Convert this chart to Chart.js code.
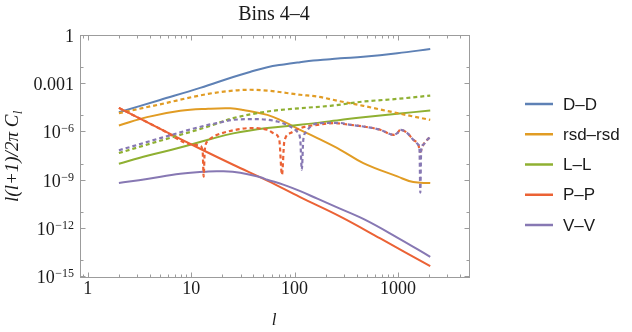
<!DOCTYPE html>
<html><head><meta charset="utf-8">
<script src="https://cdn.jsdelivr.net/npm/chart.js@4.4.1/dist/chart.umd.min.js"></script>
<style>html,body{margin:0;padding:0;background:#fff}canvas{display:block}</style>
</head><body>
<canvas id="c" width="632" height="332"></canvas>
<script>
// ---- text ----
const chartTitle = 'Bins 4–4';
const seriesNames = ['D–D', 'rsd–rsd', 'L–L', 'P–P', 'V–V'];
const seriesColors = ['#5E81B5', '#E19C24', '#8FB032', '#EB6235', '#8778B3'];
const xTickValues = [1, 10, 100, 1000];
const xTickLabels = ['1', '10', '100', '1000'];
const yTickValues = [1, 1e-3, 1e-6, 1e-9, 1e-12, 1e-15];
const yTickBase = ['1', '0.001', '10', '10', '10', '10'];
const yTickExp = ['', '', '−6', '−9', '−12', '−15'];
const yMinorTickValues = [1e-2, 1e-5, 1e-8, 1e-11, 1e-14];

// ---- data (l, value) ----
const ddL = [2, 5, 12.2, 25.5, 37, 54.5, 78.6, 113, 152, 221, 277, 462, 985, 2050];
const ddV = [1.8e-5, 1.05e-4, 5.9e-4, 2.8e-3, 5.8e-3, 1.15e-2, 1.7e-2, 2.34e-2, 2.95e-2, 3.57e-2, 4.1e-2, 5.1e-2, 8.4e-2, 0.155];

const rrL = [2, 3.74, 7.85, 14.6, 23.9, 31.9, 54.5, 77.8, 113, 166, 277, 462, 985, 1405, 2050];
const rrV = [2.7e-6, 8.9e-6, 2.19e-5, 2.95e-5, 3.16e-5, 2.5e-5, 1.23e-5, 4.8e-6, 1.45e-6, 4.4e-7, 8.3e-8, 1.23e-8, 1.82e-9, 8.1e-10, 7.1e-10];

const rrDashL = [2, 5, 14.6, 25.5, 37.3, 54.5, 113, 166, 265, 462, 985, 2050];
const rrDashV = [1.58e-5, 5.6e-5, 2.5e-4, 4.0e-4, 4.5e-4, 4.0e-4, 2.2e-4, 1.7e-4, 9.1e-5, 4.5e-5, 1.58e-5, 6.0e-6];

const llL = [2, 3.76, 7.34, 14.6, 25.5, 54.5, 113, 277, 462, 985, 2050];
const llV = [1.12e-8, 3.55e-8, 1.02e-7, 3.47e-7, 8.7e-7, 1.86e-6, 2.95e-6, 6.0e-6, 8.9e-6, 1.45e-5, 2.3e-5];

const llDashL = [2, 5, 14.6, 25.5, 54.5, 113, 221, 462, 985, 2050];
const llDashV = [5.2e-8, 3.0e-7, 2.32e-6, 7.7e-6, 1.99e-5, 3.2e-5, 4.5e-5, 8.3e-5, 1.22e-4, 1.96e-4];

const ppL = [2, 5.02, 12.2, 25.5, 54.5, 113, 277, 674, 2050];
const ppV = [3.37e-5, 1.67e-6, 9.6e-8, 9.7e-9, 9.9e-10, 9.3e-11, 5.7e-12, 2.5e-13, 4.7e-15];

const ppDashL = [2, 5.02, 10, 12.2, 12.92, 13.2, 13.54, 14.54, 17, 20, 25.5, 37.3, 54.5, 63.6, 71.1, 75.5, 79.5, 90.9, 113.5, 166, 238, 346, 462, 674, 901, 985, 1052, 1230, 1406, 1572, 1644, 1757, 1920, 2050];
const ppDashV = [3.37e-5, 1.67e-6, 1.82e-7, 1.47e-7, 6.2e-8, 1.75e-9, 8.3e-8, 3.0e-7, 6.15e-7, 9.06e-7, 1.35e-6, 1.85e-6, 1.45e-6, 8.2e-7, 3.47e-7, 2.32e-9, 2.61e-7, 9.06e-7, 1.85e-6, 2.96e-6, 3.78e-6, 2.96e-6, 2.32e-6, 1.45e-6, 7.1e-7, 9.06e-7, 1.45e-6, 9.06e-7, 3.47e-7, 1.7e-7, 6.2e-8, 1.7e-7, 3.47e-7, 5.1e-7];

const vvL = [2, 3.74, 7.85, 14.6, 19.1, 29.8, 46.6, 54.5, 77.7, 113.5, 166, 248, 462, 985, 2050];
const vvV = [7.1e-10, 1.26e-9, 2.69e-9, 3.72e-9, 3.84e-9, 3.1e-9, 1.63e-9, 1.14e-9, 5.6e-10, 2.2e-10, 7.5e-11, 2.39e-11, 4.1e-12, 2.84e-13, 1.8e-14];

const vvDashL = [2, 5.02, 14.6, 17.8, 25.5, 43.6, 68.1, 90.9, 106.2, 113.5, 117.4, 121.4, 129.8, 142, 177, 265, 346, 462, 674, 901, 985, 1052, 1230, 1406, 1572, 1615, 1644, 1675, 1757, 1920, 2050];
const vvDashV = [7.7e-8, 4.37e-7, 2.96e-6, 3.78e-6, 6.07e-6, 6.7e-6, 4.75e-6, 2.32e-6, 1.09e-6, 3.47e-7, 4.75e-9, 3.47e-7, 1.09e-6, 2.32e-6, 3.78e-6, 3.94e-6, 2.96e-6, 2.32e-6, 1.45e-6, 7.1e-7, 9.06e-7, 1.45e-6, 9.06e-7, 3.47e-7, 1.7e-7, 7.9e-8, 1.77e-10, 7.9e-8, 1.7e-7, 3.47e-7, 5.1e-7];

// ---- build ----
const pts = (L, V) => L.map((l, i) => ({x: l, y: V[i]}));
const series = [
  {L: ddL, V: ddV, c: 0, dash: false},
  {L: rrL, V: rrV, c: 1, dash: false},
  {L: llL, V: llV, c: 2, dash: false},
  {L: ppL, V: ppV, c: 3, dash: false},
  {L: vvL, V: vvV, c: 4, dash: false},
  {L: rrDashL, V: rrDashV, c: 1, dash: true},
  {L: llDashL, V: llDashV, c: 2, dash: true},
  {L: ppDashL, V: ppDashV, c: 3, dash: true},
  {L: vvDashL, V: vvDashV, c: 4, dash: true}
];
const datasets = series.map((s, k) => ({
  label: seriesNames[s.c] + (s.dash ? ' (dashed)' : ''),
  data: pts(s.L, s.V),
  showLine: true,
  borderColor: seriesColors[s.c],
  backgroundColor: seriesColors[s.c],
  borderWidth: s.dash ? 2.2 : 2,
  borderDash: s.dash ? [4, 3] : [],
  pointRadius: 0,
  fill: false,
  cubicInterpolationMode: s.dash ? 'monotone' : 'default',
  tension: s.dash ? 0 : 0.4,
  order: 100 - k
}));

const frameColor = '#9c9c9c';
const textColor = '#1a1a1a';

const decor = {
  id: 'decor',
  afterDraw(chart) {
    const {ctx, chartArea: a, scales: {x, y}} = chart;
    ctx.save();
    ctx.strokeStyle = frameColor;
    ctx.lineWidth = 1;
    ctx.strokeRect(a.left - 0.5, a.top - 0.5, a.right - a.left + 1, a.bottom - a.top + 1);
    const xLine = (v, len) => {
      const p = Math.round(x.getPixelForValue(v)) + 0.5;
      if (p < a.left || p > a.right) return;
      ctx.beginPath();
      ctx.moveTo(p, a.bottom); ctx.lineTo(p, a.bottom - len);
      ctx.moveTo(p, a.top); ctx.lineTo(p, a.top + len);
      ctx.stroke();
    };
    const yLine = (v, len) => {
      const p = Math.round(y.getPixelForValue(v)) - 0.5;
      ctx.beginPath();
      ctx.moveTo(a.left, p); ctx.lineTo(a.left + len, p);
      ctx.moveTo(a.right, p); ctx.lineTo(a.right - len, p);
      ctx.stroke();
    };
    xTickValues.forEach(v => xLine(v, 4.5));
    for (let d = 0.1; d <= 1000; d *= 10) {
      for (let m = 2; m <= 9; m++) xLine(Math.round(m * d * 100) / 100, 2.5);
    }
    yTickValues.forEach(v => yLine(v, 4.5));
    yMinorTickValues.forEach(v => yLine(v, 2.5));

    // x tick labels
    ctx.fillStyle = textColor;
    ctx.font = '18px "Liberation Serif"';
    ctx.textAlign = 'center';
    ctx.textBaseline = 'alphabetic';
    xTickValues.forEach((v, i) => ctx.fillText(xTickLabels[i], x.getPixelForValue(v), 294));

    // y tick labels
    const rightEdge = 74;
    yTickValues.forEach((v, i) => {
      const py = y.getPixelForValue(v);
      ctx.textAlign = 'left';
      let ew = 0;
      if (yTickExp[i]) {
        ctx.font = '12px "Liberation Serif"';
        ew = ctx.measureText(yTickExp[i]).width;
      }
      ctx.font = '18px "Liberation Serif"';
      const bw = ctx.measureText(yTickBase[i]).width;
      const bx = rightEdge - ew - bw - (ew ? 0.5 : 0);
      ctx.fillText(yTickBase[i], bx, py + 6);
      if (yTickExp[i]) {
        ctx.font = '12px "Liberation Serif"';
        ctx.fillText(yTickExp[i], bx + bw + 0.5, py);
      }
    });

    // title
    ctx.font = '20px "Liberation Serif"';
    ctx.textAlign = 'center';
    ctx.fillText(chartTitle, (a.left + a.right) / 2 - 1, 19.5);

    // x axis title
    ctx.font = 'italic 17px "Liberation Serif"';
    ctx.fillText('l', (a.left + a.right) / 2 - 1, 325);

    // y axis title
    ctx.save();
    ctx.translate(18, (a.top + a.bottom) / 2);
    ctx.rotate(-Math.PI / 2);
    const mainTxt = 'l(l+1)/2π C';
    ctx.font = 'italic 19px "Liberation Serif"';
    const mw = ctx.measureText(mainTxt).width;
    ctx.font = 'italic 13px "Liberation Serif"';
    const sw = ctx.measureText('l').width;
    const sx = -(mw + sw) / 2;
    ctx.textAlign = 'left';
    ctx.font = 'italic 19px "Liberation Serif"';
    ctx.fillText(mainTxt, sx, 0);
    ctx.font = 'italic 13px "Liberation Serif"';
    ctx.fillText('l', sx + mw + 0.5, 4);
    ctx.restore();

    // legend
    seriesNames.forEach((n, i) => {
      const ly = 104 + i * 30.25;
      ctx.strokeStyle = seriesColors[i];
      ctx.lineWidth = 2.5;
      ctx.beginPath();
      ctx.moveTo(525, ly); ctx.lineTo(553, ly);
      ctx.stroke();
      ctx.fillStyle = textColor;
      ctx.font = '17px "Liberation Sans"';
      ctx.textAlign = 'left';
      ctx.textBaseline = 'middle';
      ctx.fillText(n, 563, ly + 1);
      ctx.textBaseline = 'alphabetic';
    });
    ctx.restore();
  }
};

new Chart(document.getElementById('c'), {
  type: 'scatter',
  data: {datasets},
  options: {
    responsive: false,
    devicePixelRatio: 1,
    animation: false,
    layout: {padding: {left: 0, top: 36, right: 163, bottom: 0}},
    plugins: {legend: {display: false}, tooltip: {enabled: false}, title: {display: false}},
    scales: {
      x: {
        type: 'logarithmic', min: 0.86, max: 4860,
        grid: {display: false}, border: {display: false},
        ticks: {display: false},
        afterFit(s) { s.height = 55; }
      },
      y: {
        type: 'logarithmic', min: 1e-15, max: 1,
        grid: {display: false}, border: {display: false},
        ticks: {display: false},
        afterFit(s) { s.width = 81; }
      }
    }
  },
  plugins: [decor]
});
</script>
</body></html>
